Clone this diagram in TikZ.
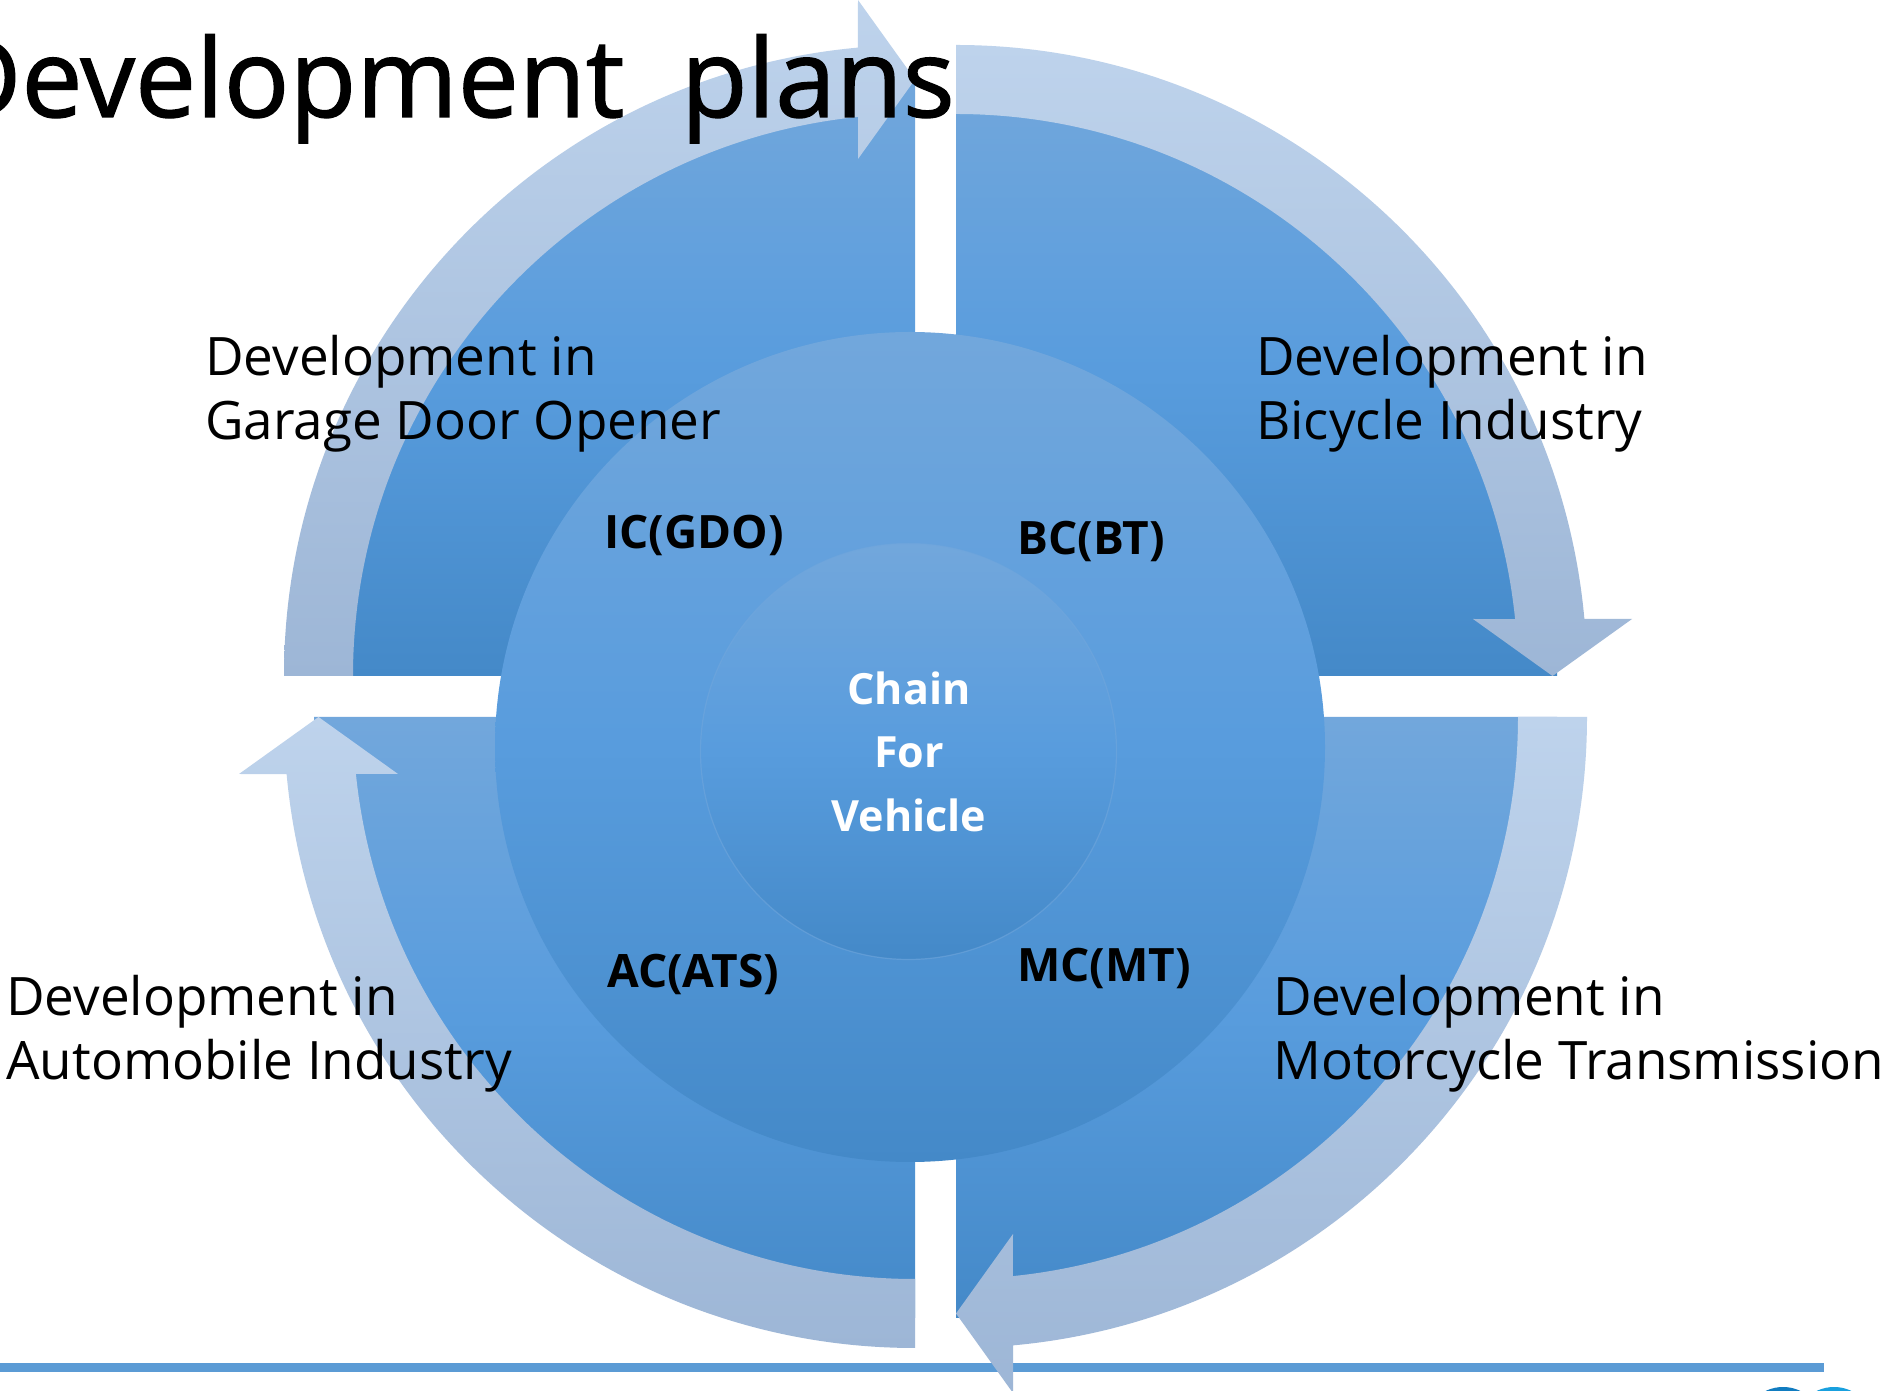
\documentclass[tikz,border=0pt]{standalone}
\usepackage{fontspec}
\setmainfont{Open Sans}
\newfontfamily\titlefont[FakeBold=1.2]{Open Sans}
\usetikzlibrary{calc}
\definecolor{ringtop}{RGB}{190,211,236}
\definecolor{ringbot}{RGB}{157,182,214}
\definecolor{pietop}{RGB}{114,167,220}
\definecolor{piemid}{RGB}{88,156,221}
\definecolor{piebot}{RGB}{68,137,200}
\definecolor{lineblue}{RGB}{91,155,213}
\definecolor{logoA}{RGB}{17,124,192}
\definecolor{logoB}{RGB}{25,160,222}
\definecolor{rimblue}{RGB}{112,166,220}
\tikzset{
  pie/.style={top color=pietop, bottom color=piebot, middle color=piemid, draw=none},
  ring/.style={top color=ringtop, bottom color=ringbot, draw=none},
  lbl/.style={font=\fontsize{53}{64}\selectfont, anchor=base west, inner sep=0pt, text=black},
  code/.style={font=\fontsize{46}{52}\selectfont\bfseries, anchor=base west, inner sep=0pt, text=black},
  hub/.style={font=\fontsize{43}{50}\selectfont\bfseries, anchor=base, inner sep=0pt, text=white},
}
\begin{document}
\begin{tikzpicture}[x=1pt,y=1pt]
\useasboundingbox (0,0) rectangle (1888,1390);
\clip (0,0) rectangle (1888,1390);
\fill[white] (0,0) rectangle (1888,1390);

% footer line and logo fragments
\fill[lineblue] (0,18) rectangle (1824,27);
\fill[logoA] (1783,-37) circle[radius=40];
\fill[logoB] (1834,-37) circle[radius=40];

\coordinate (cTL) at (915,714);
\coordinate (cTR) at (956,714);
\coordinate (cBR) at (956,673);
\coordinate (cBL) at (915,673);

% quarter pies
\shade[pie] (cTL) -- ++(180:601) arc[start angle=180,end angle=90,radius=601] -- cycle;
\shade[pie] (cTR) -- ++(90:601) arc[start angle=90,end angle=0,radius=601] -- cycle;
\shade[pie] (cBR) -- ++(0:601) arc[start angle=0,end angle=-90,radius=601] -- cycle;
\shade[pie] (cBL) -- ++(270:601) arc[start angle=270,end angle=180,radius=601] -- cycle;

% circular arrows
\shade[ring] ($(cTL)+(180:631)$) arc[start angle=180,end angle=95.2,radius=631]
  -- ($(cTL)+(-57,676)$) -- ($(cTL)+(0,596.5)$) -- ($(cTL)+(-57,517)$)
  -- ($(cTL)+(95.8:562)$) arc[start angle=95.8,end angle=180,radius=562] -- cycle;
\shade[ring] ($(cTR)+(90:631)$) arc[start angle=90,end angle=5.2,radius=631]
  -- ($(cTR)+(676,57)$) -- ($(cTR)+(596.5,0)$) -- ($(cTR)+(517,57)$)
  -- ($(cTR)+(5.8:562)$) arc[start angle=5.8,end angle=90,radius=562] -- cycle;
\shade[ring] ($(cBR)+(0:631)$) arc[start angle=0,end angle=-84.8,radius=631]
  -- ($(cBR)+(57,-676)$) -- ($(cBR)+(0,-596.5)$) -- ($(cBR)+(57,-517)$)
  -- ($(cBR)+(-84.2:562)$) arc[start angle=-84.2,end angle=0,radius=562] -- cycle;
\shade[ring] ($(cBL)+(270:631)$) arc[start angle=270,end angle=185.2,radius=631]
  -- ($(cBL)+(-676,-57)$) -- ($(cBL)+(-596.5,0)$) -- ($(cBL)+(-517,-57)$)
  -- ($(cBL)+(185.8:562)$) arc[start angle=185.8,end angle=270,radius=562] -- cycle;

% central circles
\shade[pie] (910,643) circle[radius=415];
\shade[pie] (908.5,638.5) circle[radius=208];
\draw[rimblue, line width=1.2pt, opacity=0.6] (908.5,638.5) circle[radius=208];

% title
\node[font=\titlefont\fontsize{109}{124}\selectfont, anchor=base east, inner sep=0pt] (title) at (955,1273) {Development\ \ plans};

% quadrant labels
\node[lbl] (gdo1) at (205,1014) {Development in};
\node[lbl] (gdo2) at (205,950) {Garage Door Opener};
\node[lbl] (bic1) at (1256,1014) {Development in};
\node[lbl] (bic2) at (1256,950) {Bicycle Industry};
\node[lbl] (aut1) at (6,374) {Development in};
\node[lbl] (aut2) at (6,310) {Automobile Industry};
\node[lbl] (mot1) at (1273,374) {Development in};
\node[lbl] (mot2) at (1273,310) {Motorcycle Transmission};

% codes
\node[code] (ic) at (604,841) {IC(GDO)};
\node[code] (bc) at (1017,835) {BC(BT)};
\node[code] (ac) at (607,402) {AC(ATS)};
\node[code] (mc) at (1017,408) {MC(MT)};

% hub text
\node[hub] (hub1) at (909,685) {Chain};
\node[hub] (hub2) at (909,622) {For};
\node[hub] (hub3) at (909,558) {Vehicle};
\end{tikzpicture}
\end{document}
